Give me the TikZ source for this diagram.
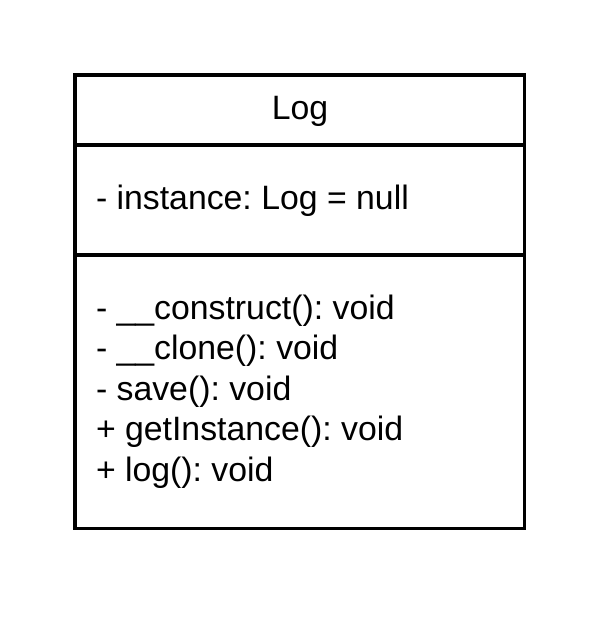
\documentclass[tikz,border=0pt]{standalone}
\usepackage{fontspec}
\setmainfont{Liberation Sans}
\frenchspacing
\usetikzlibrary{positioning,calc}

\tikzset{
    umlbox/.style={line width=3.3pt},
    umltext/.style={font=\fontsize{33.8}{40.5}\selectfont, inner sep=0pt, outer sep=0pt}
}

\begin{document}
\begin{tikzpicture}[x=1pt,y=-1pt]
    \useasboundingbox (0,0) rectangle (591,621);

    % class frame
    \coordinate (tl) at (75,75);
    \coordinate (br) at (524.5,528.5);
    \draw[umlbox] (tl) rectangle (br);
    \draw[umlbox] (75,145) coordinate (d1l) -- (524.5,145) coordinate (d1r);
    \draw[umlbox, line width=3.6pt] (75,255) coordinate (d2l) -- (524.5,255) coordinate (d2r);

    % class name
    \node[umltext, anchor=base] (name) at (300,119.5) {Log};

    % attributes
    \node[umltext, anchor=base west] (attr) at (96,209.5) {- instance: Log = null};

    % methods
    \foreach \txt [count=\i from 0] in {- \_\_construct(): void, - \_\_clone(): void, - save(): void, + getInstance(): void, + log(): void}
        \node[umltext, anchor=base west] (meth\i) at (96,319+40.5*\i) {\txt};
\end{tikzpicture}
\end{document}
